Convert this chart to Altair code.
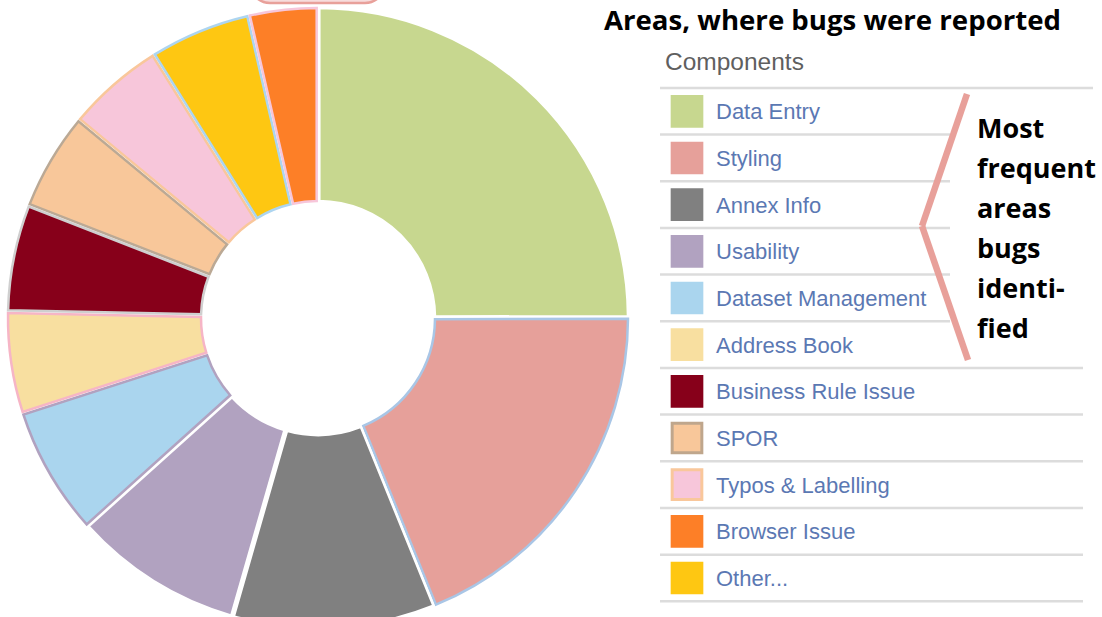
import altair as alt
import pandas as pd

# ---- data -------------------------------------------------------------
legend_order = ["Data Entry", "Styling", "Annex Info", "Usability",
                "Dataset Management", "Address Book", "Business Rule Issue",
                "SPOR", "Typos & Labelling", "Browser Issue", "Other..."]
# clockwise order in the donut, starting at 12 o'clock
pie_order = ["Data Entry", "Styling", "Annex Info", "Usability",
             "Dataset Management", "Address Book", "Business Rule Issue",
             "SPOR", "Typos & Labelling", "Other...", "Browser Issue"]
# share of reported bugs (%), in pie_order
shares = [25.0, 18.9, 10.6, 8.9, 6.7, 5.3, 5.6, 5.1, 5.1, 5.3, 3.6]

fill_colors = ["#c7d78f", "#e6a09a", "#808080", "#b1a2c0", "#aad5ee",
               "#f8dfa0", "#87001a", "#f8c79a", "#f7c6da", "#fd7f27", "#fec712"]
swatch_borders = ["#c7d78f", "#e6a09a", "#808080", "#b1a2c0", "#aad5ee",
                  "#f8dfa0", "#87001a", "#bfa68c", "#f9c79b", "#fd7f27", "#fec712"]
slice_borders = ["#ffffff", "#a9c6e6", "#ffffff", "#ffffff", "#b1a2c0",
                 "#f6b5c6", "#cfcfcf", "#bba995", "#f9c79b", "#add5f0", "#f7c6da"]

title_text = "Areas, where bugs were reported"
legend_title = "Components"
note_text = "Most\nfrequent\nareas\nbugs\nidenti-\nfied"

# ---- tables -----------------------------------------------------------
pie_df = pd.DataFrame({"Component": pie_order, "share": shares,
                       "order": list(range(len(pie_order)))})
leg_df = pd.DataFrame({"Component": legend_order,
                       "idx": list(range(len(legend_order)))})

fill_scale = alt.Scale(domain=legend_order, range=fill_colors)
row_scale = alt.Scale(type="point", domain=legend_order,
                      range=[111.3, 578], padding=0)

# ---- donut ------------------------------------------------------------
donut = alt.Chart(pie_df).mark_arc(
    radius=310, radius2=117, strokeWidth=2.5, padAngle=0.008
).encode(
    theta=alt.Theta("share:Q", stack=True),
    order=alt.Order("order:Q"),
    fill=alt.Fill("Component:N", scale=fill_scale, legend=None),
    stroke=alt.Stroke("Component:N",
                      scale=alt.Scale(domain=legend_order,
                                      range=[slice_borders[pie_order.index(c)]
                                             for c in legend_order]),
                      legend=None),
    x=alt.value(318), y=alt.value(318),
)

# pink rounded shape cut by the top edge
top_shape = alt.Chart(pd.DataFrame({"a": [0]})).mark_rect(
    cornerRadius=20, fill="#f7dcdc", stroke="#e8a09a", strokeWidth=2.5
).encode(x=alt.value(250), x2=alt.value(385), y=alt.value(-40), y2=alt.value(3))

# ---- legend -----------------------------------------------------------
base = alt.Chart(leg_df)
rules_short = base.transform_filter("datum.idx < 5").mark_rule(
    color="#dcdcdc", strokeWidth=2.5, yOffset=23.3
).encode(y=alt.Y("Component:N", scale=row_scale, axis=None),
         x=alt.value(660), x2=alt.value(950))
rules_long = base.transform_filter("datum.idx >= 5").mark_rule(
    color="#dcdcdc", strokeWidth=2.5, yOffset=23.3
).encode(y=alt.Y("Component:N", scale=row_scale, axis=None),
         x=alt.value(660), x2=alt.value(1083))
rule_top = base.transform_filter("datum.idx == 0").mark_rule(
    color="#dcdcdc", strokeWidth=2.5, yOffset=-23.3
).encode(y=alt.Y("Component:N", scale=row_scale, axis=None),
         x=alt.value(660), x2=alt.value(1093))

swatches = base.mark_square(size=880, strokeWidth=3, opacity=1).encode(
    y=alt.Y("Component:N", scale=row_scale, axis=None),
    x=alt.value(687),
    fill=alt.Fill("Component:N", scale=fill_scale, legend=None),
    stroke=alt.Stroke("Component:N",
                      scale=alt.Scale(domain=legend_order, range=swatch_borders),
                      legend=None),
)
labels = base.mark_text(
    align="left", baseline="middle", font="Liberation Sans", fontSize=22,
    color="#5b78b3", dy=1
).encode(
    y=alt.Y("Component:N", scale=row_scale, axis=None),
    x=alt.value(716),
    text="Component:N",
)
leg_title = alt.Chart(pd.DataFrame({"t": [legend_title]})).mark_text(
    align="left", baseline="alphabetic", font="Liberation Sans", fontSize=24.5,
    color="#5f5f5f"
).encode(x=alt.value(665), y=alt.value(70), text="t:N")

# ---- title and annotation ---------------------------------------------
title = alt.Chart(pd.DataFrame({"t": [title_text]})).mark_text(
    align="left", baseline="alphabetic", font="Open Sans", fontWeight="bold",
    fontSize=27.6, color="black"
).encode(x=alt.value(604), y=alt.value(30), text="t:N")

bracket_up = alt.Chart(pd.DataFrame({"a": [0]})).mark_rule(
    color="#e8a09a", strokeWidth=6.5, strokeCap="butt"
).encode(x=alt.value(967), y=alt.value(94), x2=alt.value(922), y2=alt.value(226))
bracket_dn = alt.Chart(pd.DataFrame({"a": [0]})).mark_rule(
    color="#e8a09a", strokeWidth=6.5, strokeCap="butt"
).encode(x=alt.value(922), y=alt.value(226), x2=alt.value(968), y2=alt.value(360))

note = alt.Chart(pd.DataFrame({"t": [note_text]})).mark_text(
    align="left", baseline="alphabetic", font="Open Sans", fontWeight="bold",
    fontSize=27, color="black", lineBreak="\n", lineHeight=40
).encode(x=alt.value(977), y=alt.value(138), text="t:N")

chart = alt.layer(
    donut, top_shape, rules_short, rules_long, rule_top, swatches, labels,
    leg_title, title, bracket_up, bracket_dn, note
).resolve_scale(stroke="independent").properties(
    width=1102, height=617, autosize="none", padding=0
).configure_view(stroke=None)

chart.save("out.html", embed_options={"renderer": "svg", "actions": False})
